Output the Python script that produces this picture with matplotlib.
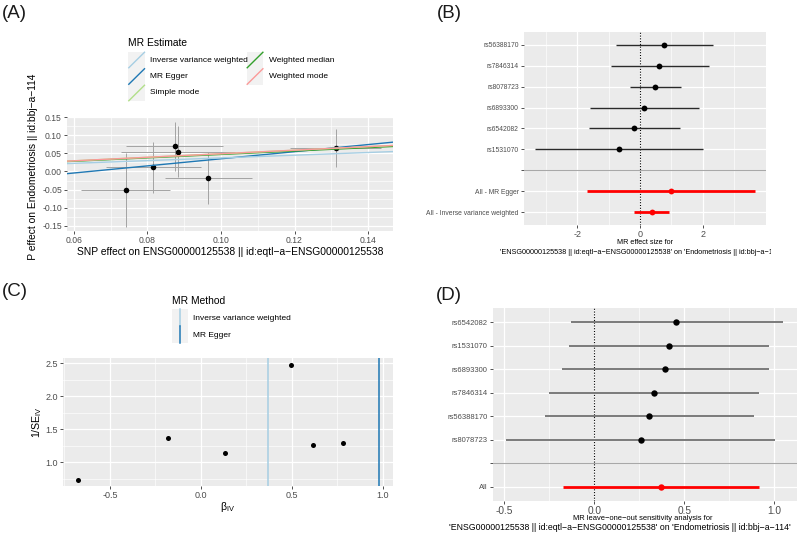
import numpy as np
import matplotlib
matplotlib.use("Agg")
import matplotlib.pyplot as plt
from matplotlib.patches import Rectangle
from matplotlib.lines import Line2D
from matplotlib.transforms import Bbox, TransformedBbox

plt.rcParams['font.family'] = ['Liberation Sans', 'DejaVu Sans']
plt.rcParams['mathtext.fontset'] = 'custom'
plt.rcParams['mathtext.rm'] = 'Liberation Sans'
plt.rcParams['mathtext.it'] = 'Liberation Sans:italic'
plt.rcParams['mathtext.bf'] = 'Liberation Sans:bold'
plt.rcParams['axes.unicode_minus'] = False

# ---------------- data ----------------
# (A) MR scatter plot
a_exposure_beta = [0.0741, 0.0816, 0.0874, 0.0883, 0.0966, 0.1312]
a_exposure_se = [0.0121, 0.0130, 0.0132, 0.0154, 0.0119, 0.0124]
a_outcome_beta = [-0.050, 0.011, 0.069, 0.055, -0.017, 0.065]
a_outcome_se = [0.102, 0.0715, 0.0685, 0.0695, 0.072, 0.0535]
a_methods = ["Inverse variance weighted", "MR Egger", "Simple mode",
             "Weighted median", "Weighted mode"]
a_slope = [0.374, 0.980, 0.488, 0.470, 0.490]
a_intercept = [0.0, -0.063, 0.0, 0.0, 0.0]
a_draw_order = ["MR Egger", "Weighted median", "Inverse variance weighted",
                "Simple mode", "Weighted mode"]
method_colors = {"Inverse variance weighted": "#a6cee3", "MR Egger": "#1f78b4",
                 "Simple mode": "#b2df8a", "Weighted median": "#33a02c",
                 "Weighted mode": "#fb9a99"}
a_xticks = [0.06, 0.08, 0.10, 0.12, 0.14]
a_yticks = [-0.15, -0.10, -0.05, 0.00, 0.05, 0.10, 0.15]

# (B) forest plot
b_labels = ["rs56388170", "rs7846314", "rs8078723", "rs6893300", "rs6542082",
            "rs1531070", "", "All - MR Egger", "All - Inverse variance weighted"]
b_beta = [0.78, 0.62, 0.49, 0.14, -0.18, -0.68, np.nan, 0.98, 0.37]
b_low = [-0.76, -0.93, -0.31, -1.60, -1.63, -3.35, np.nan, -1.70, -0.18]
b_high = [2.34, 2.20, 1.31, 1.88, 1.29, 2.00, np.nan, 3.68, 0.92]
b_xticks = [-2, 0, 2]

# (C) funnel plot
c_beta_iv = [-0.677, -0.179, 0.133, 0.493, 0.617, 0.781]
c_inv_se = [0.733, 1.367, 1.136, 2.480, 1.270, 1.287]
c_methods = ["Inverse variance weighted", "MR Egger"]
c_method_beta = [0.369, 0.978]
c_xticks = [-0.5, 0.0, 0.5, 1.0]
c_yticks = [1.0, 1.5, 2.0, 2.5]

# (D) leave-one-out plot
d_labels = ["rs6542082", "rs1531070", "rs6893300", "rs7846314", "rs56388170",
            "rs8078723", "", "All"]
d_beta = [0.456, 0.413, 0.393, 0.332, 0.306, 0.258, np.nan, 0.369]
d_low = [-0.130, -0.142, -0.179, -0.250, -0.274, -0.490, np.nan, -0.176]
d_high = [1.047, 0.972, 0.969, 0.915, 0.889, 1.004, np.nan, 0.913]
d_xticks = [-0.5, 0.0, 0.5, 1.0]

exposure_id = "ENSG00000125538 || id:eqtl\u2212a\u2212ENSG00000125538"
outcome_id = "Endometriosis || id:bbj\u2212a\u2212114"

# ---------------- figure ----------------
W, H = 798, 535
fig = plt.figure(figsize=(W / 100, H / 100), dpi=100)


def X(px):
    return px / W


def Y(py):
    return 1 - py / H


def axes_px(left, top, right, bottom):
    return fig.add_axes([X(left), Y(bottom), (right - left) / W, (bottom - top) / H])


def clipbox(left, top, right, bottom):
    return TransformedBbox(Bbox.from_extents(X(left), Y(bottom), X(right), Y(top)),
                           fig.transFigure)


BG = "#EBEBEB"
TICKC = "#4D4D4D"


def gg(ax, xfs, yfs):
    ax.set_facecolor(BG)
    for s in ax.spines.values():
        s.set_visible(False)
    ax.grid(True, which="major", color="white", lw=0.9)
    ax.grid(True, which="minor", color="white", lw=0.45)
    ax.set_axisbelow(True)
    ax.tick_params(which="major", length=2.2, width=0.6, color="#333333",
                   labelcolor=TICKC, pad=1.5)
    ax.tick_params(axis="x", labelsize=xfs)
    ax.tick_params(axis="y", labelsize=yfs)
    ax.tick_params(which="minor", length=0)


def midpoints(ticks):
    return [(a + b) / 2 for a, b in zip(ticks[:-1], ticks[1:])]


# ---- panel labels ----
for lab, px, py in [("(A)", 2, 13.5), ("(B)", 437, 13.5), ("(C)", 2, 291.5), ("(D)", 436, 296)]:
    fig.text(X(px), Y(py), lab, fontsize=13.5, ha="left", va="center", color="#1a1a1a")

# ================= (A) =================
axA = axes_px(67, 117, 393, 231)
gg(axA, 6.2, 6.2)
axA.errorbar(a_exposure_beta, a_outcome_beta, xerr=a_exposure_se, yerr=a_outcome_se,
             fmt="none", ecolor="#a3a3a3", elinewidth=0.7, capsize=0, zorder=2)
axA.scatter(a_exposure_beta, a_outcome_beta, s=16, color="black", zorder=3, linewidths=0)
for m in a_draw_order:
    i = a_methods.index(m)
    axA.axline((0, a_intercept[i]), slope=a_slope[i], color=method_colors[m], lw=1.0, zorder=4)
axA.set_xlim(0.0581, 0.1468)
axA.set_ylim(-0.1643, 0.1503)
axA.set_xticks(a_xticks)
axA.set_xticklabels([f"{v:.2f}" for v in a_xticks])
axA.set_xticks(midpoints(a_xticks), minor=True)
axA.set_yticks(a_yticks)
axA.set_yticklabels([f"{v:.2f}" for v in a_yticks])
axA.set_yticks(midpoints(a_yticks), minor=True)

fig.text(X(230), Y(252), "SNP effect on " + exposure_id, fontsize=7.4,
         ha="center", va="center")
ylabA = fig.text(X(33), Y(174), "SNP effect on " + outcome_id, fontsize=7.4,
                 rotation=90, ha="center", va="center", clip_on=True)
ylabA.set_clip_box(clipbox(0, 0, 400, 261))

# legend A
fig.text(X(128.3), Y(42.7), "MR Estimate", fontsize=7.4, ha="left", va="center")
key_w, key_h = 16.7, 16.5
row_c = [60, 76.5, 93]
col_x = [128.3, 246.7]
for i, m in enumerate(a_methods):
    col, row = i // 3, i % 3
    x0, yc = col_x[col], row_c[row]
    fig.add_artist(Rectangle((X(x0), Y(yc + key_h / 2)), key_w / W, key_h / H,
                             transform=fig.transFigure, facecolor="#F2F2F2", edgecolor="none"))
    fig.add_artist(Line2D([X(x0 + 0.5), X(x0 + key_w - 0.5)],
                          [Y(yc + key_h / 2 - 0.5), Y(yc - key_h / 2 + 0.5)],
                          transform=fig.transFigure, color=method_colors[m], lw=1.0))
    fig.text(X(x0 + key_w + 5.5), Y(yc), m, fontsize=6.0, ha="left", va="center")


# ================= forest helper =================
def forest(ax, labels, beta, low, high, line_color, lw_line, ms):
    n = len(labels)
    pos = np.arange(n)
    for p, lab, b, lo, hi in zip(pos, labels, beta, low, high):
        if lab == "":
            ax.axhline(p, color="#A8A8A8", lw=0.8, zorder=2)
            continue
        c = "red" if lab.startswith("All") else line_color
        lw = 2.0 if lab.startswith("All") else lw_line
        ax.hlines(p, lo, hi, color=c, lw=lw, zorder=3)
        ax.plot([b], [p], "o", color=("red" if lab.startswith("All") else "black"),
                ms=ms, mec="none", zorder=4)
    ax.axvline(0, color="black", ls=(0, (1, 1.5)), lw=0.8, zorder=2.5)
    ax.set_yticks(pos)
    ax.set_yticklabels(labels)
    ax.set_ylim(n - 1 + 0.6, -0.6)
    ax.grid(False, axis="y", which="minor")


# ================= (B) =================
axB = axes_px(524, 32, 766, 225)
gg(axB, 6.5, 4.9)
forest(axB, b_labels, b_beta, b_low, b_high, "#2a2a2a", 1.0, 4.2)
axB.set_xlim(-3.70, 4.02)
axB.set_xticks(b_xticks)
axB.set_xticks([-3, -1, 1, 3], minor=True)
fig.text(X(645), Y(243), "MR effect size for", fontsize=5.2, ha="center", va="center")
xlabB = fig.text(X(641), Y(252), "'" + exposure_id + "' on '" + outcome_id + "'",
                 fontsize=5.2, ha="center", va="center", clip_on=True)
xlabB.set_clip_box(clipbox(400, 0, 771, 270))

# ================= (C) =================
axC = axes_px(63.3, 357.7, 393, 486)
gg(axC, 6.5, 6.5)
axC.scatter(c_beta_iv, c_inv_se, s=13, color="black", zorder=3, linewidths=0)
for m, b in zip(c_methods, c_method_beta):
    axC.axvline(b, color=method_colors[m], lw=1.1, zorder=2.5)
axC.set_xlim(-0.756, 1.055)
axC.set_ylim(0.643, 2.585)
axC.set_xticks(c_xticks)
axC.set_xticklabels([f"{v:.1f}" for v in c_xticks])
axC.set_xticks([-0.75, -0.25, 0.25, 0.75], minor=True)
axC.set_yticks(c_yticks)
axC.set_yticklabels([f"{v:.1f}" for v in c_yticks])
axC.set_yticks([0.75, 1.25, 1.75, 2.25], minor=True)
fig.text(X(37), Y(422), r"1/SE$_{\mathrm{IV}}$", fontsize=7.6, rotation=90,
         ha="center", va="center")
fig.text(X(228), Y(507), r"$\mathrm{\beta}_{\mathrm{IV}}$", fontsize=7.6,
         ha="center", va="center")

# legend C
fig.text(X(171.7), Y(300.7), "MR Method", fontsize=7.4, ha="left", va="center")
for i, m in enumerate(c_methods):
    yc = [317.6, 334.3][i]
    x0 = 171.7
    fig.add_artist(Rectangle((X(x0), Y(yc + key_h / 2)), key_w / W, key_h / H,
                             transform=fig.transFigure, facecolor="#F2F2F2", edgecolor="none"))
    fig.add_artist(Line2D([X(x0 + key_w / 2)] * 2, [Y(yc + key_h / 2), Y(yc - key_h / 2)],
                          transform=fig.transFigure, color=method_colors[m], lw=1.1))
    fig.text(X(193.3), Y(yc + 1), m, fontsize=6.0, ha="left", va="center")

# ================= (D) =================
axD = axes_px(492.7, 308, 797, 501)
gg(axD, 7.3, 5.5)
forest(axD, d_labels, d_beta, d_low, d_high, "#7a7a7a", 1.4, 4.6)
axD.set_xlim(-0.564, 1.126)
axD.set_xticks(d_xticks)
axD.set_xticklabels([f"{v:.1f}" for v in d_xticks])
axD.set_xticks([-0.25, 0.25, 0.75], minor=True)
fig.text(X(643), Y(519), "MR leave\u2212one\u2212out sensitivity analysis for", fontsize=5.4,
         ha="center", va="center")
fig.text(X(620), Y(527.5), "'" + exposure_id + "' on '" + outcome_id + "'",
         fontsize=6.3, ha="center", va="center")

fig.savefig("out.png", dpi=100)
